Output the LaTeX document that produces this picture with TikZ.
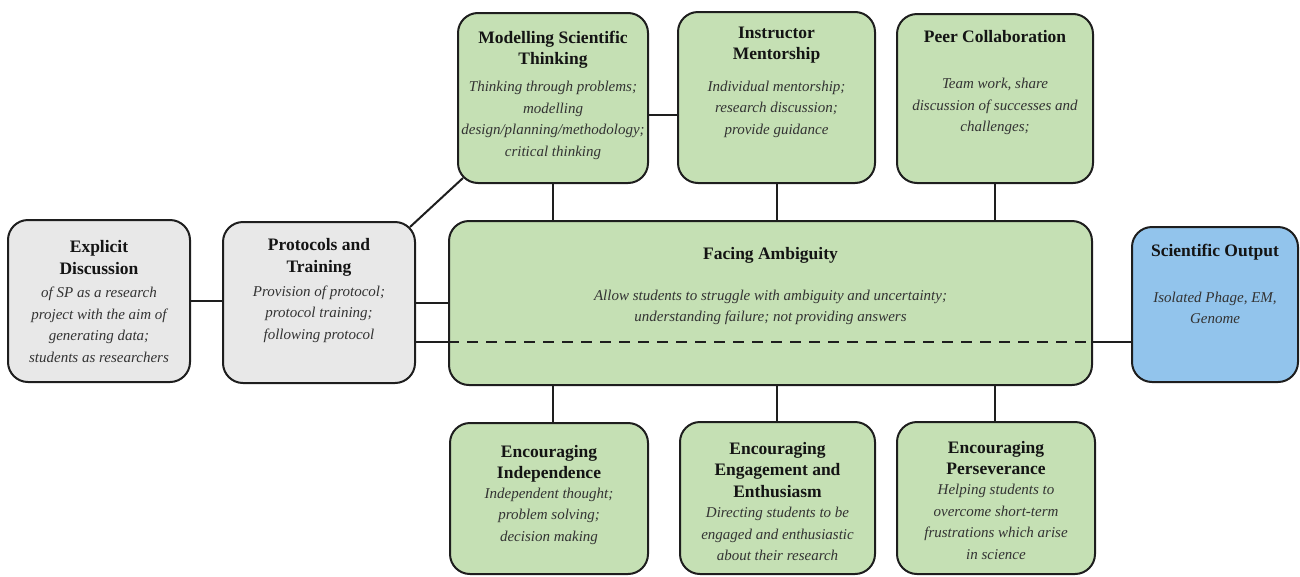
\documentclass[tikz,border=0pt]{standalone}
\usepackage{fontspec}
\setmainfont{Liberation Serif}
\usetikzlibrary{calc}
\definecolor{gfill}{RGB}{197,224,180}
\definecolor{grayfill}{RGB}{232,232,232}
\definecolor{bfill}{RGB}{146,196,236}
\definecolor{lineclr}{RGB}{30,30,30}
\begin{document}
\begin{tikzpicture}[x=1pt,y=-1pt,
  box/.style={draw=lineclr, line width=2pt, rounded corners=20pt, inner sep=0pt},
  gbox/.style={box, fill=gfill},
  graybox/.style={box, fill=grayfill},
  bbox/.style={box, fill=bfill},
  ttl/.style={font=\fontsize{17.5}{21.5}\selectfont\bfseries, align=center, text=black!92, inner sep=0pt},
  dsc/.style={font=\fontsize{15}{21.5}\selectfont\itshape, align=center, text=black!80, inner sep=0pt},
  conn/.style={line width=2pt, draw=lineclr}]
\useasboundingbox (0,0) rectangle (1300,576);

% boxes
\node[graybox, minimum width=182pt, minimum height=162pt] (exp) at (99,301) {};
\node[graybox, minimum width=192pt, minimum height=161pt] (prot) at (319,302.5) {};
\node[gbox, minimum width=190pt, minimum height=170pt] (mod) at (553,98) {};
\node[gbox, minimum width=197pt, minimum height=171pt] (inst) at (776.5,97.5) {};
\node[gbox, minimum width=196pt, minimum height=169pt] (peer) at (995,98.5) {};
\node[gbox, minimum width=643pt, minimum height=164pt] (fac) at (770.5,303) {};
\node[bbox, minimum width=166pt, minimum height=155pt] (sci) at (1215,304.5) {};
\node[gbox, minimum width=198pt, minimum height=151pt] (ind) at (549,498.5) {};
\node[gbox, minimum width=195pt, minimum height=152pt] (eng) at (777.5,498) {};
\node[gbox, minimum width=198pt, minimum height=152pt] (per) at (996,498) {};

% connectors
\path ($(fac.west)+(0,39)$) coordinate (fl) ($(fac.east)+(0,39)$) coordinate (fr);
\path ($(mod.east)+(0,17)$) coordinate (mi);
\draw[conn] (exp.east) -- (exp.east -| prot.west);
\draw[conn] (prot.east) -- (prot.east -| fac.west);
\draw[conn] (fl -| prot.east) -- (fl);
\draw[conn, dash pattern=on 11pt off 8pt] (fl) -- (fr);
\draw[conn] (fr) -- (fr -| sci.west);
\draw[conn] ($(prot.north east)+(-6,6)$) -- ($(mod.south west)+(6,-6)$);
\draw[conn] (mi) -- (mi -| inst.west);
\draw[conn] (mod.south) -- (mod.south |- fac.north);
\draw[conn] (inst.south) -- (inst.south |- fac.north);
\draw[conn] (peer.south) -- (peer.south |- fac.north);
\draw[conn] (mod.south |- fac.south) -- (mod.south |- ind.north);
\draw[conn] (inst.south |- fac.south) -- (inst.south |- eng.north);
\draw[conn] (peer.south |- fac.south) -- (peer.south |- per.north);

% texts
\node[ttl] (expT) at (99,257.5) {Explicit\\Discussion};
\node[dsc] (expD) at (99,325) {of SP as a research\\project with the aim of\\generating data;\\students as researchers};
\node[ttl] (protT) at (319,257.5) {Protocols and\\Training};
\node[dsc] (protD) at (319,314) {Provision of protocol;\\protocol training;\\following protocol};
\node[ttl] (modT) at (553,50) {Modelling Scientific\\Thinking};
\node[dsc] (modD) at (553,120.5) {Thinking through problems;\\modelling\\design/planning/methodology;\\critical thinking};
\node[ttl] (instT) at (776.5,45) {Instructor\\Mentorship};
\node[dsc] (instD) at (776.5,109) {Individual mentorship;\\research discussion;\\provide guidance};
\node[ttl] (peerT) at (995,37) {Peer Collaboration};
\node[dsc] (peerD) at (995,106.5) {Team work, share\\discussion of successes and\\challenges;};
\node[ttl] (facT) at (770.5,255) {Facing Ambiguity};
\node[dsc] (facD) at (770.5,307.5) {Allow students to struggle with ambiguity and uncertainty;\\understanding failure; not providing answers};
\node[ttl] (sciT) at (1215,252) {Scientific Output};
\node[dsc] (sciD) at (1215,308) {Isolated Phage, EM,\\Genome};
\node[ttl] (indT) at (549,464) {Encouraging\\Independence};
\node[dsc] (indD) at (549,516) {Independent thought;\\problem solving;\\decision making};
\node[ttl] (engT) at (777.5,470) {Encouraging\\Engagement and\\Enthusiasm};
\node[dsc] (engD) at (777.5,534) {Directing students to be\\engaged and enthusiastic\\about their research};
\node[ttl] (perT) at (996,458) {Encouraging\\Perseverance};
\node[dsc] (perD) at (996,522) {Helping students to\\overcome short-term\\frustrations which arise\\in science};
\end{tikzpicture}
\end{document}
